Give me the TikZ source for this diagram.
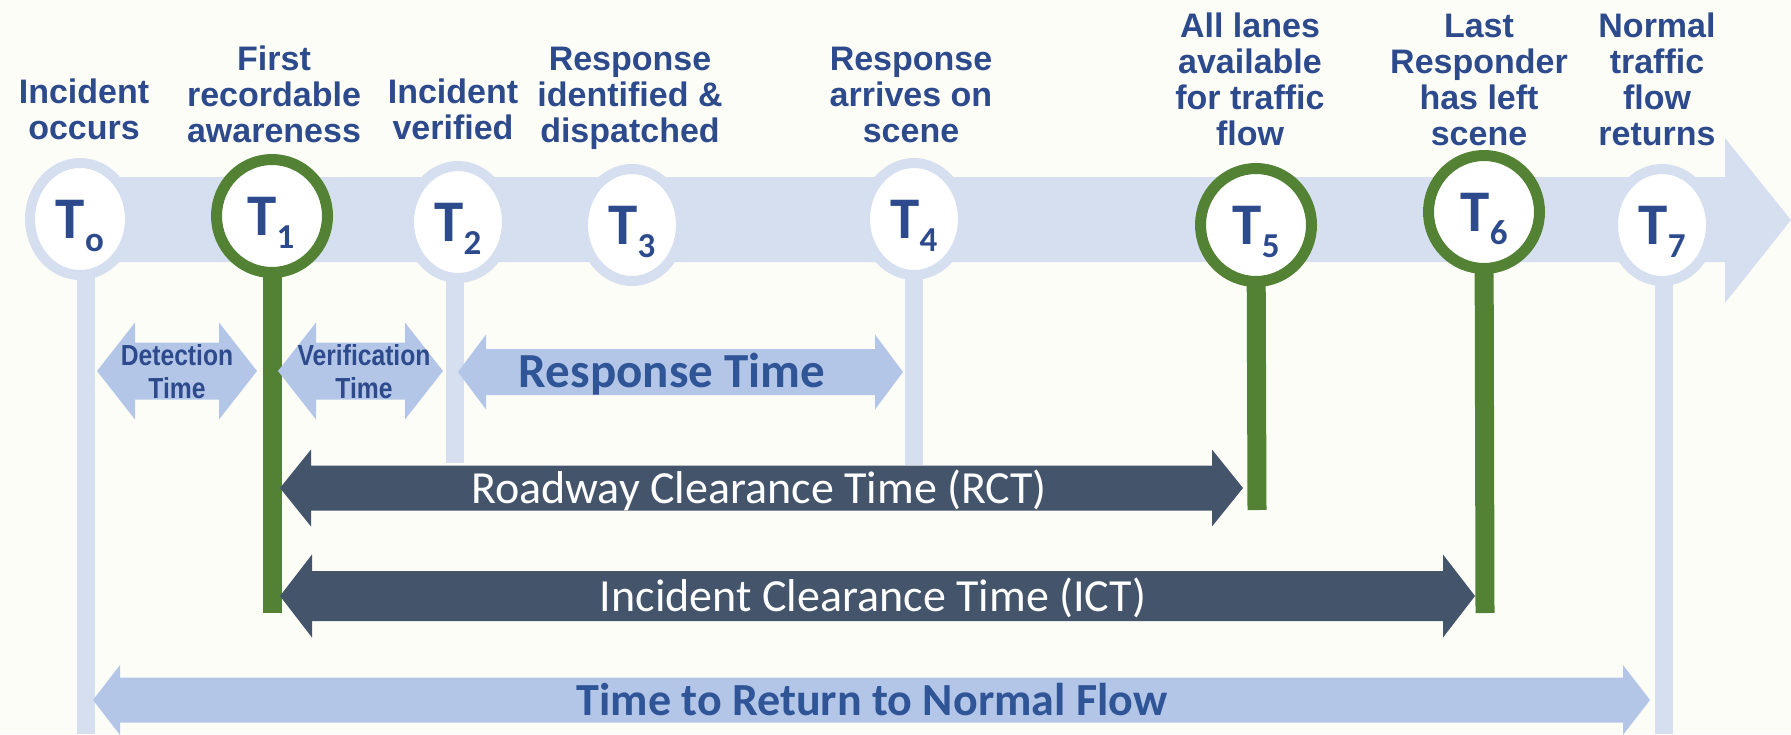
\documentclass[tikz,border=0pt]{standalone}
\usepackage{fontspec}
\setmainfont{Liberation Sans}
\newfontfamily\calib{Carlito}
\newfontfamily\narrowf[FakeStretch=0.85]{Liberation Sans}
\usetikzlibrary{shapes.geometric}
\definecolor{bgc}{RGB}{253,253,248}
\definecolor{bandc}{RGB}{214,223,239}
\definecolor{arrl}{RGB}{180,198,231}
\definecolor{arrd}{RGB}{68,84,106}
\definecolor{grn}{RGB}{84,130,53}
\definecolor{txt}{RGB}{44,74,140}
\definecolor{txtb}{RGB}{47,85,151}
\newcommand{\dbla}[7]{%
  \fill[#7] (#1,#3) -- ({#1+#6},{#3-#5}) -- ({#1+#6},{#3-#4}) -- ({#2-#6},{#3-#4}) -- ({#2-#6},{#3-#5}) -- (#2,#3) -- ({#2-#6},{#3+#5}) -- ({#2-#6},{#3+#4}) -- ({#1+#6},{#3+#4}) -- ({#1+#6},{#3+#5}) -- cycle;}
\tikzset{
  lring/.style={ellipse, draw=bandc, fill=white, line width=10pt, inner sep=0pt, minimum width=98pt, minimum height=112pt},
  gring/.style={ellipse, draw=grn, fill=white, line width=11pt, inner sep=0pt, minimum width=111pt, minimum height=113pt},
  lline/.style={draw=bandc, line width=18pt},
  gline/.style={draw=grn, line width=19pt},
  toplab/.style={anchor=base, align=center, text=txt, inner sep=0pt, font=\bfseries\fontsize{34}{36}\selectfont},
  tlab/.style={anchor=base, text=txt, inner sep=0pt, font=\calib\bfseries\fontsize{59}{59}\selectfont},
  smalllab/.style={anchor=base, align=center, text=txt, inner sep=0pt, font=\narrowf\bfseries\fontsize{29}{33}\selectfont},
  darklab/.style={anchor=base, text=white, inner sep=0pt, font=\calib\fontsize{46}{46}\selectfont},
}
\newcommand{\subs}[1]{\raisebox{-13pt}{\fontsize{35}{35}\selectfont #1}}
\begin{document}
\begin{tikzpicture}[x=1pt,y=-1pt]
\fill[bgc] (0,0) rectangle (1791,734);
\useasboundingbox (0,0) rectangle (1791,734);
% band arrow
\fill[bandc] (80,177) -- (1725,177) -- (1725,138) -- (1791,220) -- (1725,303) -- (1725,262) -- (80,262) -- cycle;
% circle centres and line ends
\coordinate (c0) at (80,219);
\coordinate (c1) at (272,216);
\coordinate (c2) at (458,222);
\coordinate (c3) at (632,225);
\coordinate (c4) at (914,219);
\coordinate (c5) at (1256,225);
\coordinate (c6) at (1484,212);
\coordinate (c7) at (1662,225);
\coordinate (b0) at (86,734);
\coordinate (b2) at (455,463);
\coordinate (b4) at (914,465);
\coordinate (b7) at (1664,734);
\coordinate (b1) at (272,613);
\coordinate (b5) at (1257,510);
\coordinate (b6) at (1485,613);
% light lines
\draw[lline] (86,219) -- (b0);
\draw[lline] (455,222) -- (b2);
\draw[lline] (c4) -- (b4);
\draw[lline] (1664,225) -- (b7);
% light circles
\node[lring, minimum width=100pt, minimum height=112pt] (t0) at (c0) {};
\node[lring] (t2) at (c2) {};
\node[lring] (t3) at (c3) {};
\node[lring] (t4) at (c4) {};
\node[lring] (t7) at (c7) {};
% green lines and circles
\draw[gline] (c1) -- (b1);
\draw[gline] (c5) -- (b5);
\draw[gline] (c6) -- (b6);
\node[gring] (t1) at (c1) {};
\node[gring] (t5) at (c5) {};
\node[gring] (t6) at (c6) {};
% T labels
\node[tlab] (n0) at (80,238) {T\subs{o}};
\node[tlab] (n1) at (271,235) {T\subs{1}};
\node[tlab] (n2) at (458,241) {T\subs{2}};
\node[tlab] (n3) at (632,244) {T\subs{3}};
\node[tlab] (n4) at (914,238) {T\subs{4}};
\node[tlab] (n5) at (1256,244) {T\subs{5}};
\node[tlab] (n6) at (1484,231) {T\subs{6}};
\node[tlab] (n7) at (1662,244) {T\subs{7}};
% top labels (base = last line)
\node[toplab] (l0) at (84,139) {Incident\\occurs};
\node[toplab] (l1) at (274,142) {First\\recordable\\awareness};
\node[toplab] (l2) at (453,139) {Incident\\verified};
\node[toplab] (l3) at (630,142) {Response\\identified \&\\dispatched};
\node[toplab] (l4) at (911,142) {Response\\arrives on\\scene};
\node[toplab] (l5) at (1250,145) {All lanes\\available\\for traffic\\flow};
\node[toplab] (l6) at (1479,145) {Last\\Responder\\has left\\scene};
\node[toplab] (l7) at (1657,145) {Normal\\traffic\\flow\\returns};
% interval arrows
\dbla{97}{257}{371}{28.5}{48.5}{38}{arrl}
\dbla{278}{443}{371}{28.5}{48.5}{38}{arrl}
\dbla{458}{903}{372}{23}{37.5}{28}{arrl}
\dbla{280}{1243}{488}{22.5}{38.5}{31}{arrd}
\dbla{280}{1475}{596}{25}{41.5}{32}{arrd}
\dbla{93}{1650}{700}{22.5}{35}{27}{arrl}
\node[smalllab] (det) at (177,398) {Detection\\Time};
\node[smalllab] (ver) at (364,398) {Verification\\Time};
\node[anchor=base, text=txtb, inner sep=0pt, font=\calib\bfseries\fontsize{49}{49}\selectfont] (rt) at (672,387) {Response Time};
\node[darklab] (rct) at (759,503) {Roadway Clearance Time (RCT)};
\node[darklab] (ict) at (873,611) {Incident Clearance Time (ICT)};
\node[anchor=base, text=txtb, inner sep=0pt, font=\calib\bfseries\fontsize{46}{46}\selectfont] (trn) at (872,715) {Time to Return to Normal Flow};
\end{tikzpicture}
\end{document}
